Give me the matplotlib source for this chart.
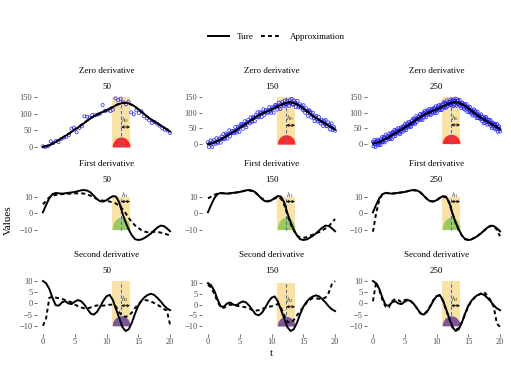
import matplotlib
matplotlib.use("Agg")
import matplotlib.pyplot as plt
from matplotlib.lines import Line2D
import numpy as np

plt.rcParams['font.family'] = ['Liberation Serif', 'DejaVu Serif']
plt.rcParams['mathtext.fontset'] = 'stix'

t_grid = np.arange(0, 20.01, 0.5)

zero_true = [0, 2, 5, 10, 15, 21, 27, 33, 39, 45, 52, 58, 65, 72, 79, 86, 92, 97, 102, 106,
             110, 115, 120, 125, 129, 132, 133, 131, 127, 121, 114, 106, 98, 90, 83, 77, 71,
             65, 59, 53, 46]
first_true = [0.5, 5, 9, 11.5, 12.2, 12, 11.8, 12, 12.3, 12.5, 12.8, 13.3, 13.8, 14, 13.6, 12.5,
              10.5, 8.5, 7.2, 7, 7.8, 9.2, 10.3, 10, 6.5, 0, -5.5, -10, -13.5, -15.8, -16.3,
              -16, -15, -13.8, -12.3, -10.5, -8.8, -7.6, -7.8, -9.2, -11]
second_true = [10, 9, 6.5, 2.5, -0.8, -1, 0.5, 1, 0, -0.3, 0.8, 1.5, 1, -0.5, -2.5, -4.5, -5,
               -3.8, -1.5, 1.2, 3.2, 3.8, 1.5, -2.5, -6.5, -10.5, -12.3, -11.5, -8.5, -4.5, -1,
               1.2, 2.8, 3.8, 4.3, 3.8, 2.5, 1, -0.8, -2.2, -3]

zero_approx_50 = [1, 3, 6, 10, 15, 21, 27, 33, 39, 46, 52, 59, 66, 73, 80, 86, 92, 97, 101, 106,
                  111, 116, 121, 126, 130, 132, 132, 130, 126, 120, 113, 105, 97, 90, 83, 77, 71,
                  65, 59, 53, 47]
zero_approx_150 = [1, 2, 5, 10, 15, 21, 27, 33, 39, 45, 52, 58, 65, 72, 79, 86, 92, 97, 102, 106,
                   110, 115, 120, 125, 129, 132, 133, 131, 127, 121, 114, 106, 98, 90, 83, 77, 71,
                   65, 59, 53, 47]
zero_approx_250 = [0, 2, 5, 10, 15, 21, 27, 33, 39, 45, 52, 58, 65, 72, 79, 86, 92, 97, 102, 106,
                   110, 115, 120, 125, 129, 132, 133, 131, 127, 121, 114, 106, 98, 90, 83, 77, 71,
                   65, 59, 53, 46]

first_approx_50 = [5.3, 7.5, 9.5, 10.5, 11, 11.3, 11.5, 11.6, 11.7, 11.8, 11.9, 12, 12, 11.8, 11.3,
                   10.5, 9.5, 8.5, 7.8, 7.5, 7.3, 7, 6.5, 5.8, 4.5, 2.5, 0, -3, -5.5, -7.5, -9,
                   -10.3, -11.2, -11.6, -11.5, -11.3, -11.4, -11.8, -12.3, -12.9, -13.5]
first_approx_150 = [8.9, 10, 11, 11.8, 12, 12, 11.9, 12, 12.2, 12.5, 12.9, 13.3, 13.6, 13.7, 13.3,
                    12.2, 10.6, 8.9, 7.7, 7.3, 7.8, 8.8, 9.5, 8.8, 5, -1, -6.5, -10.5, -13.5,
                    -14.8, -15, -14.6, -13.8, -13, -12.3, -11.5, -10.5, -9.3, -8, -5.8, -3.5]
first_approx_250 = [-11.3, 0, 8, 11.5, 12.3, 12, 11.8, 12.1, 12.3, 12.6, 12.9, 13.3, 13.7, 13.8,
                    13.5, 12.4, 10.6, 8.7, 7.4, 7.1, 7.8, 9, 10, 9.6, 6.2, 0, -5.8, -10.2, -13.6,
                    -15.8, -16.1, -15.8, -14.8, -13.6, -12.2, -10.6, -9, -7.8, -8, -10, -14]

second_approx_50 = [-10, -6.6, 2.5, 3, 2.6, 2.3, 2, 1.5, 1, 0.5, -0.5, -1.2, -1.8, -2.2, -2.2,
                    -1.8, -1.2, -0.9, -1, -1, -0.8, -0.6, -0.5, -1.5, -4, -5.5, -6, -5.5, -4, -2,
                    -0.3, 1, 1.5, 1.3, 0.8, 0.2, -0.5, -1.5, -2.5, -3.2, -9.5]
second_approx_150 = [9.2, 8, 5, 1.5, -1.3, -1.5, -0.5, 0, -0.3, -0.5, -0.8, -1, -1.3, -1.8, -2.6,
                     -2.8, -2.6, -2, -1.5, -1, -0.8, -0.3, 0.3, -1.5, -5, -8, -8.5, -7.2, -5, -3,
                     -1.2, 0.8, 2.2, 3, 2.9, 2.7, 2.7, 3.3, 5.5, 9.5, 11]
second_approx_250 = [1, 9.5, 6, 1.5, -1.5, -1.8, 1, 2, 1.5, 0.5, 1.5, 1.8, 0.8, -0.5, -2.5, -4.5,
                     -4.8, -3.5, -1.2, 1.5, 3.3, 3.5, 1.2, -2.8, -6.8, -10.5, -11.8, -11, -8.2,
                     -4.8, -1.5, 1, 2.5, 3.5, 4.5, 5, 3.5, 1.5, -1.5, -9, -10.5]

# noisy observations, evenly spaced on [0, 20]
obs_50 = [2, 0, 3, 17, 12, 18, 15, 24, 28, 30, 36, 55, 58, 44, 57, 62, 92, 91, 88, 96, 95, 97,
          100, 126, 108, 110, 108, 112, 146, 140, 145, 134, 128, 136, 104, 98, 110, 102, 107, 92,
          86, 80, 72, 75, 70, 64, 56, 52, 50, 42]
obs_150 = [6, -9, 3, 12, -2, -9, 7, 13, 5, 1, 19, 7, 4, 18, 15, 5, 24, 17, 32, 16,
           18, 34, 30, 18, 32, 44, 26, 35, 42, 35, 42, 35, 54, 42, 37, 55, 51, 39, 59, 64,
           63, 49, 62, 73, 60, 54, 70, 77, 70, 66, 85, 74, 71, 86, 84, 73, 93, 86, 101, 85,
           87, 103, 99, 86, 99, 111, 93, 101, 108, 100, 108, 100, 118, 106, 100, 117, 113, 100, 119, 125,
           123, 110, 122, 132, 119, 112, 128, 134, 126, 121, 139, 127, 123, 137, 133, 122, 140, 131, 144, 126,
           126, 139, 133, 118, 129, 138, 117, 122, 127, 116, 120, 109, 124, 109, 100, 114, 106, 90, 106, 108,
           102, 85, 94, 100, 83, 73, 86, 90, 79, 72, 87, 73, 66, 78, 72, 58, 75, 64, 77, 57,
           57, 69, 62, 47, 57, 66, 45, 50, 54, 43]
obs_250 = [6, -9, 3, 12, -3, -11, 5, 10, 1, -5, 13, 1, -4, 10, 6, -5, 14, 6, 21, 4,
           6, 21, 17, 4, 17, 29, 10, 17, 24, 16, 23, 15, 33, 21, 15, 32, 27, 14, 33, 38,
           22, 35, 44, 30, 24, 41, 36, 46, 33, 41, 50, 33, 42, 30, 48, 52, 41, 49, 38, 55,
           56, 42, 54, 64, 50, 43, 59, 65, 57, 52, 70, 58, 54, 68, 65, 54, 73, 65, 80, 63,
           66, 81, 77, 64, 77, 89, 70, 78, 85, 77, 85, 77, 95, 83, 77, 94, 89, 76, 95, 100,
           84, 97, 106, 92, 85, 102, 97, 107, 94, 101, 111, 94, 103, 91, 108, 112, 101, 108, 97, 114,
           113, 99, 111, 120, 106, 99, 114, 120, 112, 107, 125, 113, 108, 122, 119, 108, 126, 118, 133, 116,
           117, 132, 128, 115, 128, 139, 120, 128, 134, 126, 133, 124, 142, 129, 123, 139, 133, 120, 138, 142,
           125, 137, 145, 130, 122, 138, 131, 140, 125, 131, 140, 121, 128, 114, 130, 132, 119, 125, 112, 127,
           125, 109, 119, 127, 111, 102, 116, 119, 109, 102, 118, 103, 97, 109, 103, 90, 107, 97, 110, 91,
           91, 104, 98, 82, 93, 103, 82, 88, 93, 83, 88, 78, 94, 80, 72, 87, 80, 65, 82, 85,
           67, 78, 85, 69, 61, 76, 69, 77, 62, 68, 76, 57, 64, 50, 66, 68, 55, 61, 48, 63,
           61, 45, 55, 63, 47, 38, 52, 56, 46, 39]

sample_sizes = ["50", "150", "250"]
row_titles = ["Zero derivative", "First derivative", "Second derivative"]
row_ticks = [[0, 50, 100, 150], [-10, 0, 10], [-10, -5, 0, 5, 10]]
x_ticks = [0, 5, 10, 15, 20]

true_rows = [zero_true, first_true, second_true]
approx_rows = [[zero_approx_50, zero_approx_150, zero_approx_250],
               [first_approx_50, first_approx_150, first_approx_250],
               [second_approx_50, second_approx_150, second_approx_250]]
obs_cols = [obs_50, obs_150, obs_250]

# local window
t0 = 12.3
h = 1.4
band_lo = [0, -10, -10]
band_hi = [150, 10, 10]
kern_h = [30, 7.5, 4.5]
kern_col = ['#FF2B2B', '#9BCB5A', '#7D559B']
arrow_y = [60, 7, -1]
h_labels = ['$h_0$', '$h_1$', '$h_2$']

W, H = 511, 365
fig = plt.figure(figsize=(W / 100, H / 100), dpi=100)

col_left = [36.6, 201.6, 366.6]
pw = 139.8
row_top = [94.5, 187.5, 278.5]
ph = 55

for r in range(3):
    for c in range(3):
        L, T = col_left[c], row_top[r]
        ax = fig.add_axes([L / W, 1 - (T + ph) / H, pw / W, ph / H])
        # band + kernel
        ax.fill_between([t0 - h, t0 + h], band_lo[r], band_hi[r], color='#FCE2A0', lw=0, zorder=1)
        u = np.linspace(-1, 1, 60)
        ax.fill_between(t0 + h * u, band_lo[r], band_lo[r] + kern_h[r] * np.sqrt(1 - u ** 2),
                        color=kern_col[r], lw=0, zorder=2)
        ax.plot([t0, t0], [band_lo[r], band_hi[r]], color='#3A6FD8', lw=0.8,
                dashes=(3, 2), zorder=3)
        if r == 0:
            n = len(obs_cols[c])
            ax.scatter(np.linspace(0, 20, n), obs_cols[c], s=5, facecolors='none',
                       edgecolors='#1F1FFF', linewidths=0.5, zorder=4)
        ax.plot(t_grid, true_rows[r], color='black', lw=1.4, zorder=5)
        ax.plot(t_grid, approx_rows[r][c], color='black', lw=1.4, dashes=(2, 1.6), zorder=5)
        ax.annotate('', xy=(t0 + h, arrow_y[r]), xytext=(t0, arrow_y[r]),
                    arrowprops=dict(arrowstyle='<->', lw=0.6, color='black',
                                    mutation_scale=4, shrinkA=0, shrinkB=0), zorder=6)
        yr = band_hi[r] - band_lo[r]
        ax.text(t0 + h * 0.45, arrow_y[r] + yr * 0.04, h_labels[r], fontsize=5,
                ha='center', va='bottom', color='#333333', zorder=6)

        ax.set_xlim(-1, 21)
        for s in ax.spines.values():
            s.set_visible(False)
        ax.set_yticks(row_ticks[r])
        ax.set_yticklabels([str(v).replace('-', '\u2212') for v in row_ticks[r]])
        ax.tick_params(axis='y', length=2, width=0.5, color='#333333', labelsize=6,
                       labelcolor='#4D4D4D', pad=1)
        if r == 2:
            ax.set_xticks(x_ticks)
            ax.tick_params(axis='x', length=2, width=0.5, color='#333333', labelsize=6,
                           labelcolor='#4D4D4D', pad=1.5)
        else:
            ax.set_xticks([])
        ax.set_facecolor('none')

        xc = (L + pw / 2) / W
        fig.text(xc, 1 - (T - 23.5) / H, row_titles[r], ha='center', va='center', fontsize=6.5)
        fig.text(xc, 1 - (T - 7.5) / H, sample_sizes[c], ha='center', va='center', fontsize=6.5)

fig.text(8 / W, 1 - 220 / H, 'Values', rotation=90, ha='center', va='center', fontsize=8)
fig.text(271.5 / W, 1 - 353 / H, 't', ha='center', va='center', fontsize=8)

handles = [Line2D([], [], color='black', lw=1.4),
           Line2D([], [], color='black', lw=1.4, dashes=(2, 1.6))]
fig.legend(handles, ['Ture', 'Approximation'], loc='center', bbox_to_anchor=(276 / W, 1 - 37 / H),
           ncol=2, frameon=False, fontsize=6.5, handlelength=2.4, columnspacing=0.8,
           handletextpad=0.8)

fig.savefig('out.png', dpi=100)
